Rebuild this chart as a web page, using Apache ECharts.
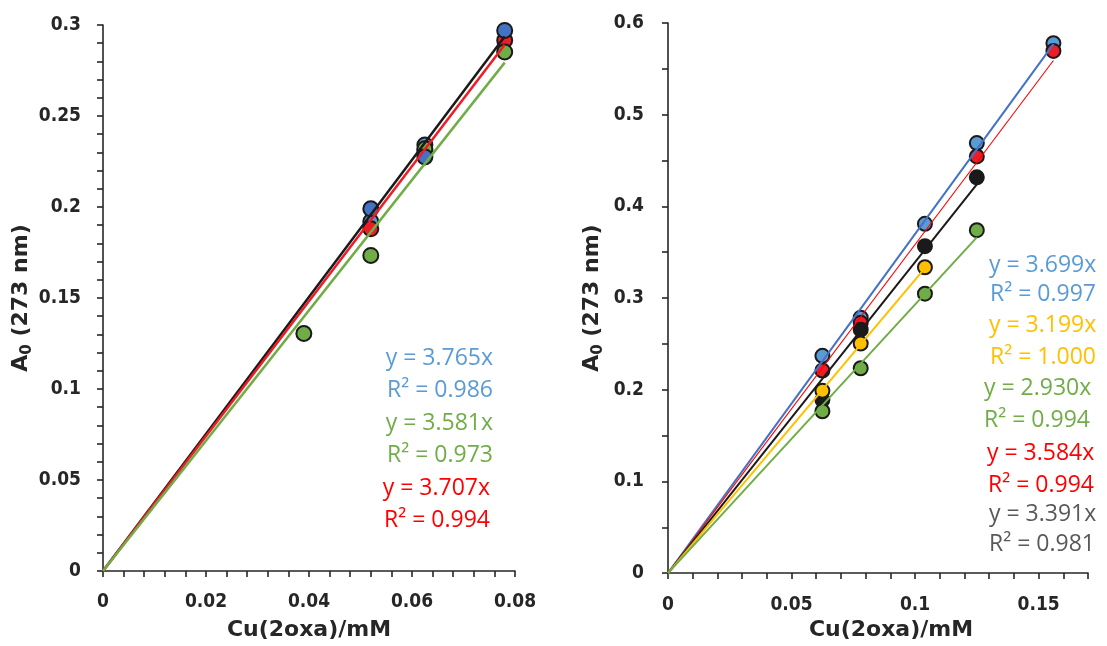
<!DOCTYPE html>
<html>
<head>
<meta charset="utf-8">
<script src="https://cdn.jsdelivr.net/npm/echarts@6/dist/echarts.min.js"></script>
<style>html,body{margin:0;padding:0;background:#fff}#c{width:1107px;height:646px}</style>
</head>
<body>
<div id="c"></div>
<script>
// ---------- LEFT PANEL DATA ----------
const L_lightBlueX = [0.052, 0.0625];
const L_lightBlueY = [0.192, 0.234];
const L_redX = [0.052, 0.0625, 0.078];
const L_redY = [0.188, 0.231, 0.2916];
const L_greenX = [0.039, 0.052, 0.0625, 0.078];
const L_greenY = [0.1305, 0.1734, 0.232, 0.2852];
const L_blueX = [0.052, 0.0625, 0.078];
const L_blueY = [0.199, 0.2275, 0.297];
// trendlines (slope from the equations, end x)
const L_trendNames = ['black', 'red', 'green'];
const L_trendSlopes = [3.765, 3.707, 3.581];
const L_trendEndX = [0.078, 0.078, 0.078];
const L_eqTexts = ['y = 3.765x', 'R² = 0.986', 'y = 3.581x', 'R² = 0.973', 'y = 3.707x', 'R² = 0.994'];

// ---------- RIGHT PANEL DATA ----------
const R_blueX = [0.0625, 0.078, 0.104, 0.125, 0.156];
const R_blueY = [0.237, 0.2785, 0.381, 0.469, 0.578];
const R_redX = [0.0625, 0.078, 0.125, 0.156];
const R_redY = [0.221, 0.273, 0.4545, 0.5695];
const R_blackX = [0.0625, 0.078, 0.104, 0.125];
const R_blackY = [0.189, 0.2655, 0.3566, 0.4317];
const R_yellowX = [0.0625, 0.078, 0.104];
const R_yellowY = [0.1988, 0.2503, 0.3336];
const R_greenX = [0.0625, 0.078, 0.104, 0.125];
const R_greenY = [0.1765, 0.2234, 0.3048, 0.374];
const R_trendNames = ['blue', 'red', 'black', 'yellow', 'green'];
const R_trendSlopes = [3.699, 3.584, 3.391, 3.199, 2.930];
const R_trendEndX = [0.156, 0.156, 0.125, 0.104, 0.125];
const R_eqTexts = ['y = 3.699x', 'R² = 0.997', 'y = 3.199x', 'R² = 1.000', 'y = 2.930x', 'R² = 0.994', 'y = 3.584x', 'R² = 0.994', 'y = 3.391x', 'R² = 0.981'];

// ---------- STYLE ----------
const C = {
  blueDark: '#4472C4', blueLight: '#5B9BD5', red: '#EE1C25', green: '#70AD47',
  yellow: '#FFC000', black: '#1A1A1A', gray: '#595959', axis: '#262626'
};
const FONT = 'DejaVu Sans';
const FONT_TICK = "'DejaVu Sans Condensed', 'DejaVu Sans'";
const zip = (xs, ys) => xs.map((x, i) => [x, ys[i]]);

function scatter(idx, xs, ys, color, size) {
  return {
    type: 'scatter', xAxisIndex: idx, yAxisIndex: idx, data: zip(xs, ys),
    symbolSize: size, itemStyle: { color: color, borderColor: '#1A1A1A', borderWidth: 2, opacity: 1 },
    silent: true, animation: false
  };
}
function trend(idx, slope, endX, color, width) {
  return {
    type: 'line', xAxisIndex: idx, yAxisIndex: idx,
    data: [[0, 0], [endX, slope * endX]], showSymbol: false, symbol: 'none',
    lineStyle: { color: color, width: width }, silent: true, animation: false
  };
}
function isMult(v, step) { const r = v / step; return Math.abs(r - Math.round(r)) < 1e-6; }
function fmt(step) {
  return function (v) { return isMult(v, step) ? String(parseFloat(v.toFixed(3))) : ''; };
}
const axisLineStyle = { show: true, lineStyle: { color: C.axis, width: 1.6 } };
const tickStyle = { show: true, inside: false, length: 6, lineStyle: { color: C.axis, width: 1.6 }, interval: 0 };
const labelStyle = (m, step) => ({
  show: true, interval: 0, margin: m, color: C.axis, fontFamily: FONT_TICK, fontWeight: 'bold', fontSize: 19,
  formatter: fmt(step), showMinLabel: true, showMaxLabel: true
});
const yName = '{a|A}{s|0}{a| (273 nm)}';
const yNameStyle = {
  rich: {
    a: { fontFamily: FONT, fontWeight: 'bold', fontSize: 22, color: C.axis, lineHeight: 27 },
    s: { fontFamily: FONT, fontWeight: 'bold', fontSize: 15, color: C.axis, lineHeight: 27, verticalAlign: 'bottom', padding: [8, 0, 0, 0] }
  }
};
const xNameStyle = (padLeft) => ({ fontFamily: FONT, fontWeight: 'bold', fontSize: 22, color: C.axis, padding: [0, 0, 0, padLeft] });

const series = [];
// left panel
series.push(scatter(0, L_lightBlueX, L_lightBlueY, C.blueLight, 15));
series.push(scatter(0, L_redX, L_redY, C.red, 15));
series.push(scatter(0, L_greenX, L_greenY, C.green, 15));
series.push(scatter(0, L_blueX, L_blueY, C.blueDark, 15));
const L_colors = [C.black, C.red, C.green];
L_trendSlopes.forEach((s, i) => series.push(trend(0, s, L_trendEndX[i], L_colors[i], 2.5)));
// right panel
series.push(scatter(1, R_blueX, R_blueY, C.blueLight, 14));
series.push(scatter(1, R_redX, R_redY, C.red, 14));
series.push(scatter(1, R_blackX, R_blackY, C.black, 14));
series.push(scatter(1, R_yellowX, R_yellowY, C.yellow, 14));
series.push(scatter(1, R_greenX, R_greenY, C.green, 14));
const R_colors = [C.blueDark, '#FF0000', C.black, C.yellow, C.green];
const R_widths = [2, 1.1, 2, 2, 2];
R_trendSlopes.forEach((s, i) => series.push(trend(1, s, R_trendEndX[i], R_colors[i], R_widths[i])));

// annotations
const L_eqColors = [C.blueLight, C.blueLight, C.green, C.green, '#FF0000', '#FF0000'];
const L_eqPos = [[493, 358], [493, 390], [493, 423], [493, 455], [490, 488], [490, 520]];
const R_eqColors = [C.blueLight, C.blueLight, C.yellow, C.yellow, C.green, C.green, '#FF0000', '#FF0000', C.gray, C.gray];
const R_eqPos = [[989, 265], [990, 294], [989, 325], [990, 357], [984, 388], [984, 420], [987, 453], [988, 485], [989, 514], [989, 544]];
const graphics = [];
L_eqTexts.forEach((t, i) => graphics.push({
  type: 'text', x: L_eqPos[i][0], y: L_eqPos[i][1], silent: true,
  style: { text: t, fill: L_eqColors[i], fontSize: 23, fontFamily: 'Open Sans', align: 'right', verticalAlign: 'middle' }
}));
R_eqTexts.forEach((t, i) => graphics.push({
  type: 'text', x: R_eqPos[i][0], y: R_eqPos[i][1], silent: true,
  style: { text: t, fill: R_eqColors[i], fontSize: 23, fontFamily: 'Open Sans', align: 'left', verticalAlign: 'middle' }
}));

const option = {
  animation: false,
  backgroundColor: '#ffffff',
  grid: [
    { left: 103, top: 25, width: 412, height: 546 },
    { left: 668, top: 23, width: 420, height: 554 }
  ],
  xAxis: [
    { gridIndex: 0, type: 'value', min: 0, max: 0.08, interval: 0.004,
      axisLine: axisLineStyle, axisTick: tickStyle, axisLabel: labelStyle(22, 0.02), splitLine: { show: false },
      name: 'Cu(2oxa)/mM', nameLocation: 'middle', nameGap: 48, nameTextStyle: xNameStyle(0) },
    { gridIndex: 1, type: 'value', min: 0, max: 0.17, interval: 0.01,
      axisLine: axisLineStyle, axisTick: tickStyle, axisLabel: labelStyle(22, 0.05), splitLine: { show: false },
      name: 'Cu(2oxa)/mM', nameLocation: 'middle', nameGap: 42, nameTextStyle: xNameStyle(26) }
  ],
  yAxis: [
    { gridIndex: 0, type: 'value', min: 0, max: 0.3, interval: 0.01,
      axisLine: axisLineStyle, axisTick: tickStyle, axisLabel: labelStyle(22, 0.05), splitLine: { show: false },
      name: yName, nameLocation: 'middle', nameGap: 68, nameTextStyle: yNameStyle },
    { gridIndex: 1, type: 'value', min: 0, max: 0.6, interval: 0.05,
      axisLine: axisLineStyle, axisTick: tickStyle, axisLabel: labelStyle(24, 0.1), splitLine: { show: false },
      name: yName, nameLocation: 'middle', nameGap: 62, nameTextStyle: yNameStyle }
  ],
  series: series,
  graphic: graphics
};
echarts.init(document.getElementById('c'), null, { renderer: 'canvas' }).setOption(option);
</script>
</body>
</html>
